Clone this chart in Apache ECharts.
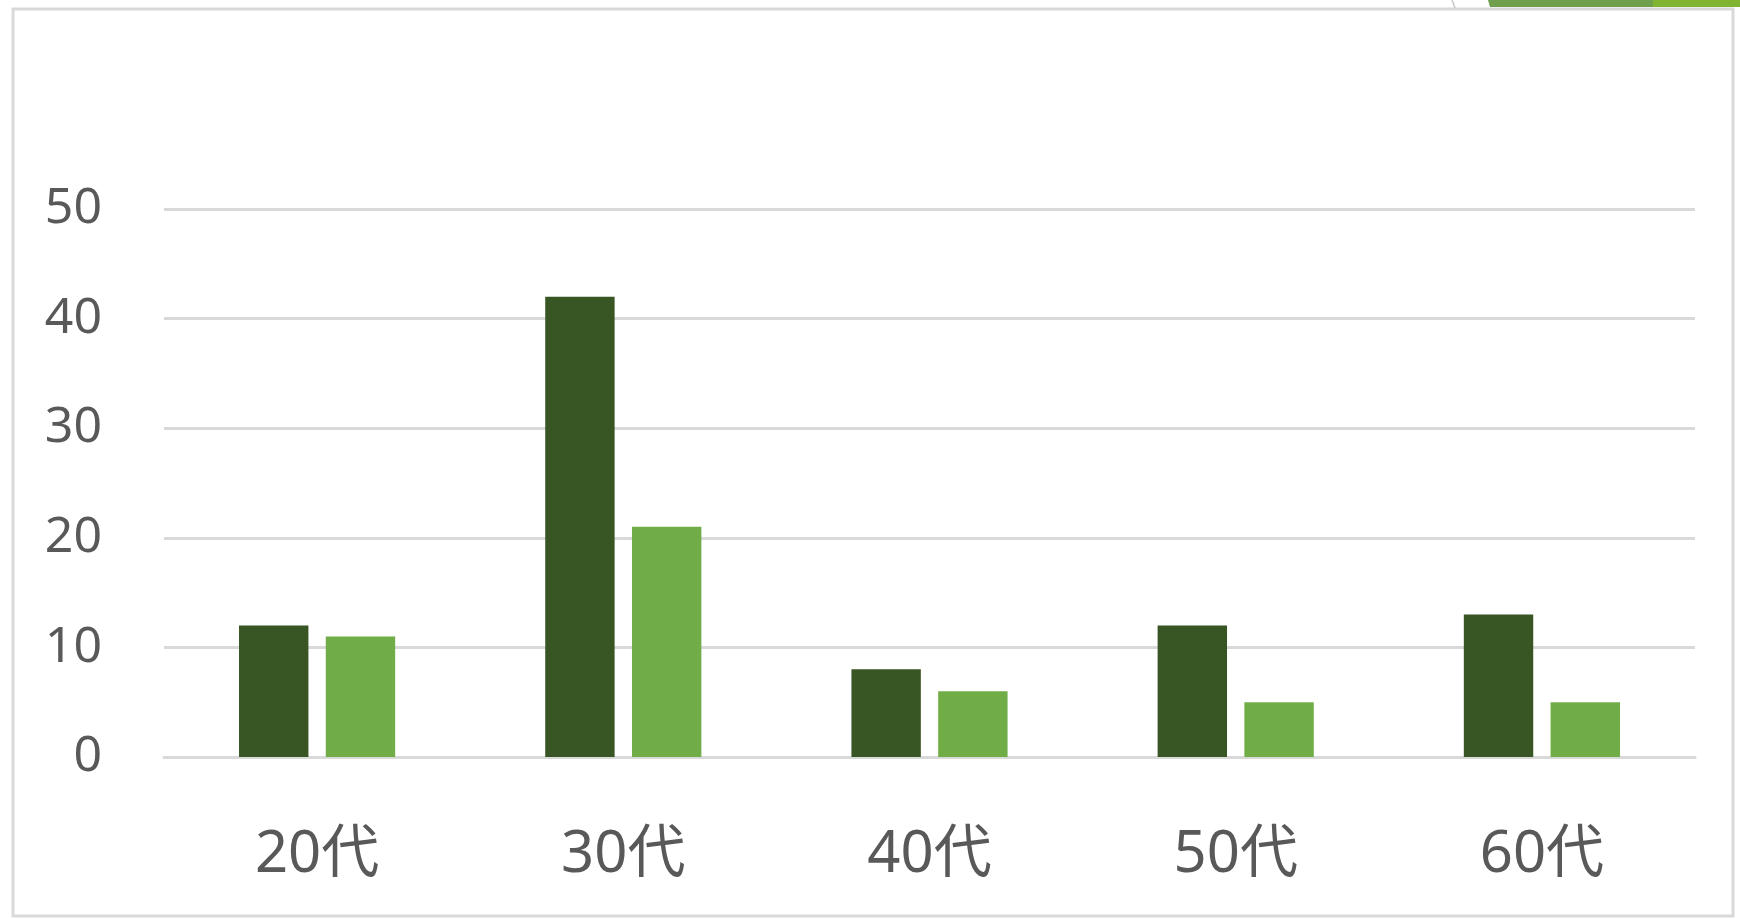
<!DOCTYPE html>
<html>
<head>
<meta charset="utf-8">
<script src="https://cdn.jsdelivr.net/npm/echarts@6/dist/echarts.min.js"></script>
<style>
html,body{margin:0;padding:0;background:#fff;}
#chart{width:1740px;height:919px;}
</style>
</head>
<body>
<div id="chart"></div>
<script>
const categories = ['20代', '30代', '40代', '50代', '60代'];
const seriesA = [12, 42, 8, 12, 13];
const seriesB = [11, 21, 6, 5, 5];
const yTicks = { min: 0, max: 50, interval: 10 };

const chart = echarts.init(document.getElementById('chart'));
const font = '"Noto Sans", "Noto Sans CJK JP", sans-serif';
chart.setOption({
  backgroundColor: '#ffffff',
  animation: false,
  graphic: [
    { type: 'rect', shape: { x: 13, y: 9, width: 1720, height: 907 }, style: { fill: 'none', stroke: '#d9d9d9', lineWidth: 3 }, silent: true },
    { type: 'polygon', shape: { points: [[1488, 0], [1653, 0], [1653, 7], [1490, 7]] }, style: { fill: '#6f9e4c' }, silent: true },
    { type: 'rect', shape: { x: 1653, y: 0, width: 87, height: 7 }, style: { fill: '#80b431' }, silent: true },
    { type: 'line', shape: { x1: 1452, y1: 0, x2: 1455, y2: 8 }, style: { stroke: '#c8c8c8', lineWidth: 1.5 }, silent: true }
  ],
  grid: { left: 164, right: 45, top: 209, bottom: 162 },
  xAxis: {
    type: 'category',
    data: categories,
    axisLine: { show: true, lineStyle: { color: '#d9d9d9', width: 3 } },
    axisTick: { show: false },
    axisLabel: { color: '#595959', fontSize: 58, fontFamily: font, margin: 69 }
  },
  yAxis: {
    type: 'value',
    min: yTicks.min, max: yTicks.max, interval: yTicks.interval,
    axisLine: { show: false },
    axisTick: { show: false },
    splitLine: { lineStyle: { color: '#d9d9d9', width: 3 } },
    axisLabel: { color: '#595959', fontSize: 50, fontFamily: font, margin: 62, padding: [5, 0, 0, 0] }
  },
  series: [
    { type: 'bar', data: seriesA, itemStyle: { color: '#375623' }, barGap: '25%', barCategoryGap: '49%' },
    { type: 'bar', data: seriesB, itemStyle: { color: '#70AD47' } }
  ]
});
</script>
</body>
</html>
